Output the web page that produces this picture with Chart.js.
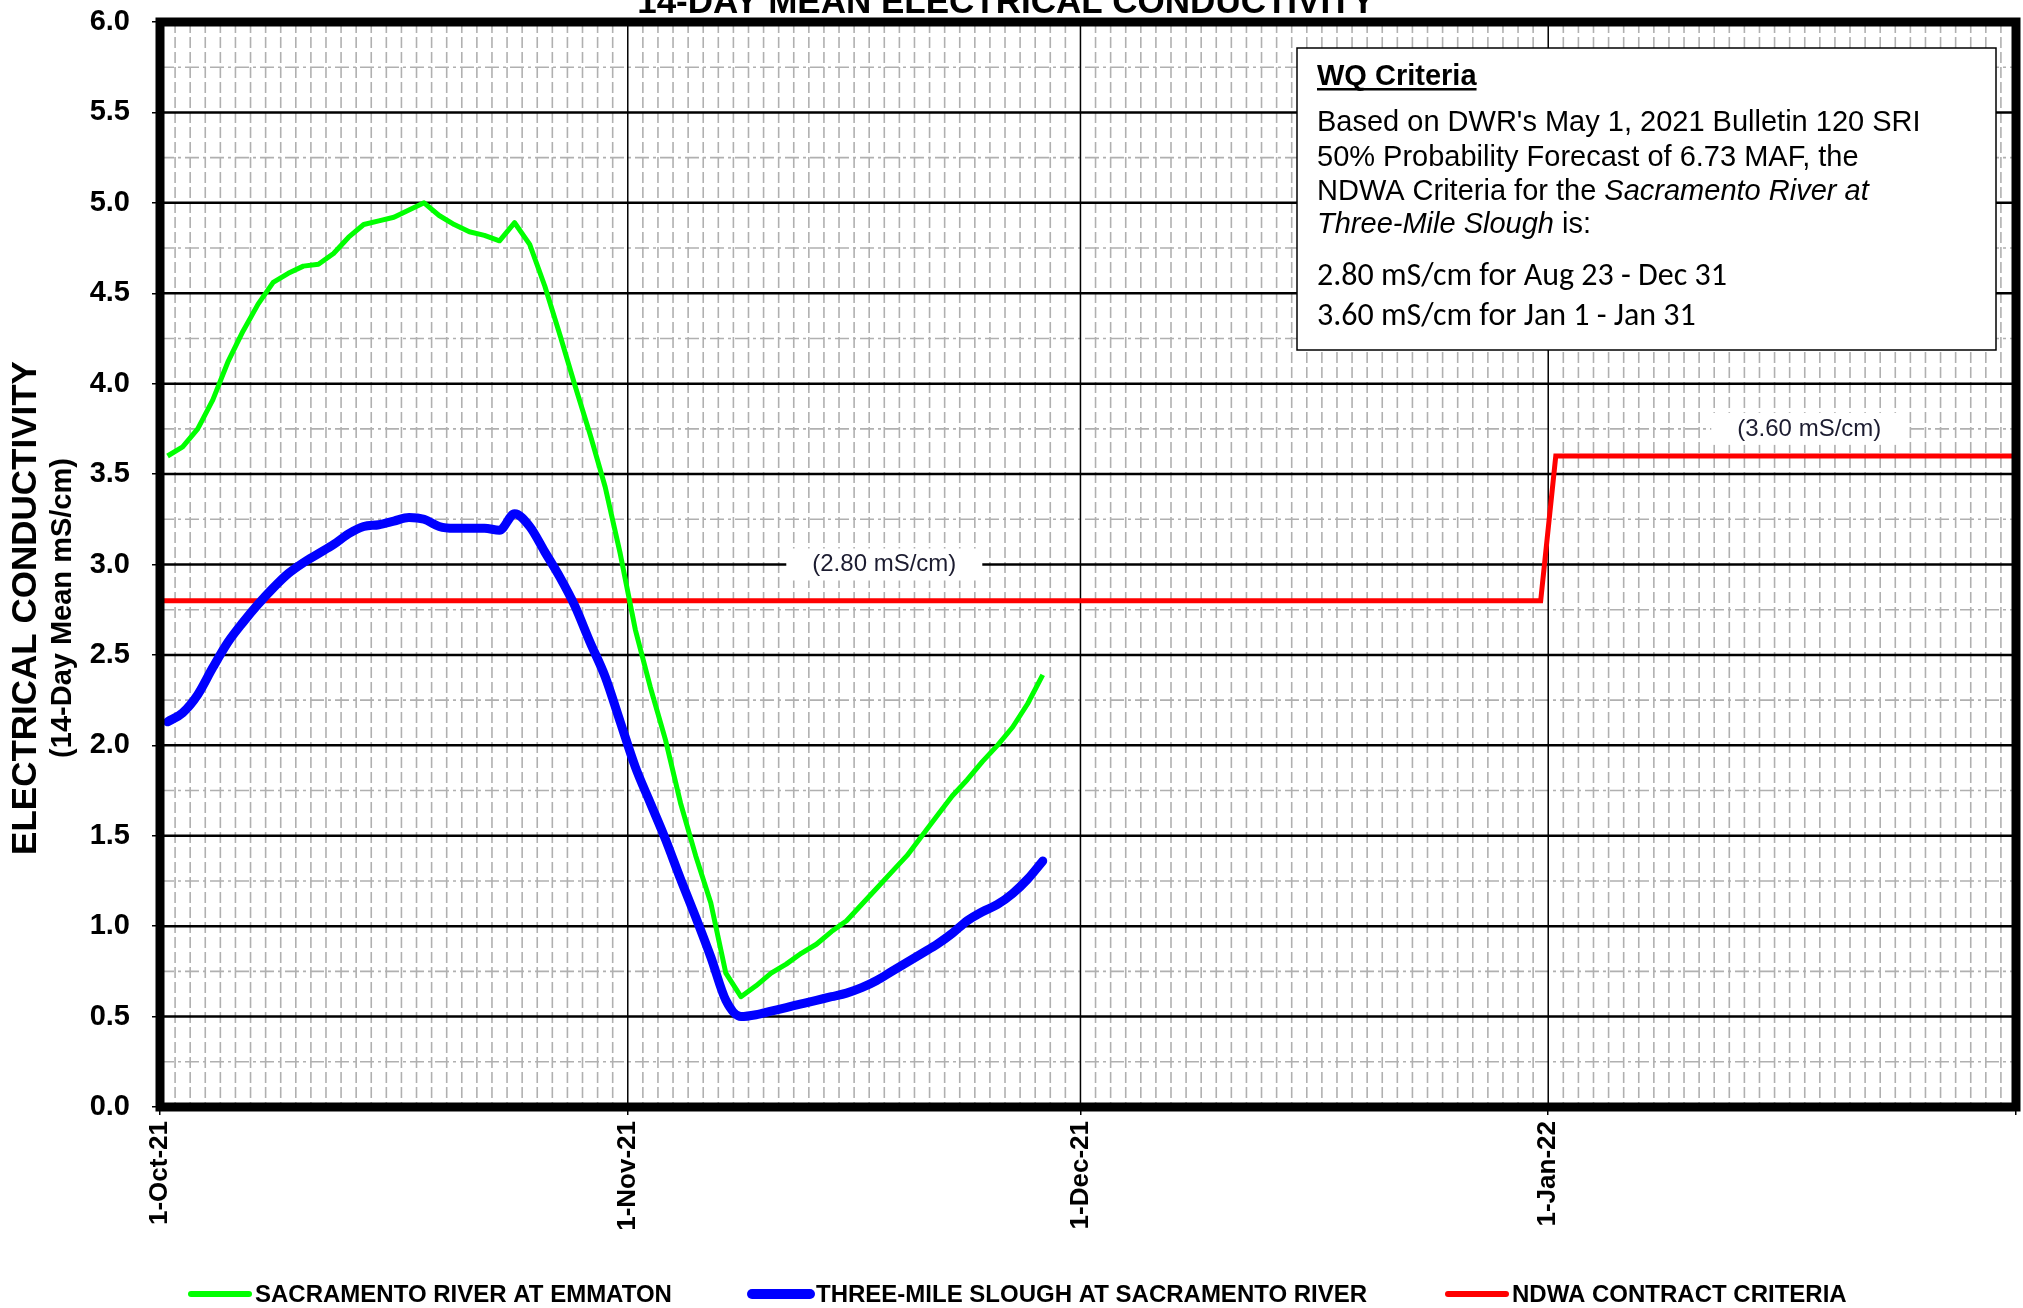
<!DOCTYPE html>
<html>
<head>
<meta charset="utf-8">
<title>14-Day Mean Electrical Conductivity</title>
<script src="https://cdn.jsdelivr.net/npm/chart.js@4.4.0/dist/chart.umd.min.js"></script>
<style>
  html, body { margin: 0; padding: 0; background: #fff; }
  #ecChart { display: block; }
</style>
</head>
<body>
<canvas id="ecChart" width="2023" height="1308"></canvas>
<script>
// x values are days since 1-Oct-21 00:00 (daily means plotted at noon)
const sampleDays = [
  0.5, 1.5, 2.5, 3.5, 4.5, 5.5, 6.5, 7.5, 8.5, 9.5,
  10.5, 11.5, 12.5, 13.5, 14.5, 15.5, 16.5, 17.5, 18.5, 19.5,
  20.5, 21.5, 22.5, 23.5, 24.5, 25.5, 26.5, 27.5, 28.5, 29.5,
  30.5, 31.5, 32.5, 33.5, 34.5, 35.5, 36.5, 37.5, 38.5, 39.5,
  40.5, 41.5, 42.5, 43.5, 44.5, 45.5, 46.5, 47.5, 48.5, 49.5,
  50.5, 51.5, 52.5, 53.5, 54.5, 55.5, 56.5, 57.5, 58.5
];

// Sacramento River at Emmaton (mS/cm)
const emmatonEC = [
  3.60, 3.65, 3.75, 3.91, 4.12, 4.29, 4.44, 4.56, 4.61, 4.65,
  4.66, 4.72, 4.81, 4.88, 4.90, 4.92, 4.96, 5.00, 4.93, 4.88,
  4.84, 4.82, 4.79, 4.89, 4.77, 4.54, 4.27, 3.99, 3.72, 3.43,
  3.06, 2.64, 2.32, 2.03, 1.68, 1.39, 1.13, 0.74, 0.61, 0.67,
  0.74, 0.79, 0.85, 0.90, 0.97, 1.03, 1.12, 1.21, 1.30, 1.39,
  1.50, 1.61, 1.72, 1.81, 1.91, 2.00, 2.10, 2.23, 2.39
];

// Three-Mile Slough at Sacramento River (mS/cm)
const threeMileEC = [
  2.13, 2.18, 2.28, 2.43, 2.57, 2.68, 2.78, 2.87, 2.95, 3.01,
  3.06, 3.11, 3.17, 3.21, 3.22, 3.24, 3.26, 3.25, 3.21, 3.20,
  3.20, 3.20, 3.19, 3.28, 3.21, 3.07, 2.93, 2.77, 2.57, 2.38,
  2.13, 1.88, 1.68, 1.48, 1.26, 1.05, 0.83, 0.59, 0.50, 0.51,
  0.53, 0.55, 0.57, 0.59, 0.61, 0.63, 0.66, 0.70, 0.75, 0.80,
  0.85, 0.90, 0.96, 1.03, 1.08, 1.12, 1.18, 1.26, 1.36
];

// NDWA contract criteria step
const criteriaDays = [0, 91.5, 92.5, 123];
const criteriaEC = [2.80, 2.80, 3.60, 3.60];

// axis ticks
const monthTickDays = [0, 31, 61, 92, 123];
const monthTickLabels = ['1-Oct-21', '1-Nov-21', '1-Dec-21', '1-Jan-22', ''];
const yMin = 0, yMax = 6, yStep = 0.5;

const seriesNames = [
  'SACRAMENTO RIVER AT EMMATON',
  'THREE-MILE SLOUGH AT SACRAMENTO RIVER',
  'NDWA CONTRACT CRITERIA'
];

const FONT = '"Liberation Sans", Arial, Helvetica, sans-serif';
const NOTE_FONT = 'Carlito, Lato, Calibri, sans-serif';

function toPoints(xs, ys) {
  return xs.map((x, i) => ({ x: x, y: ys[i] }));
}

// grid, criteria labels and the WQ note, under the lines
const backgroundPlugin = {
  id: 'ecBackground',
  beforeDatasetsDraw(chart) {
    const { ctx, chartArea: a, scales: { x, y } } = chart;
    ctx.save();

    // daily minor lines
    ctx.strokeStyle = '#b0b0b0';
    ctx.lineWidth = 1.6;
    ctx.setLineDash([11, 4]);
    for (let d = 1; d < x.max; d++) {
      if (monthTickDays.includes(d)) continue;
      const px = x.getPixelForValue(d);
      ctx.beginPath();
      ctx.moveTo(px, a.top);
      ctx.lineTo(px, a.bottom);
      ctx.stroke();
    }

    // quarter-unit minor lines
    ctx.setLineDash([14, 4, 3, 4]);
    for (let v = yMin + yStep / 2; v < yMax; v += yStep) {
      const py = y.getPixelForValue(v);
      ctx.beginPath();
      ctx.moveTo(a.left, py);
      ctx.lineTo(a.right, py);
      ctx.stroke();
    }

    // major horizontal lines
    ctx.setLineDash([]);
    ctx.strokeStyle = '#000';
    ctx.lineWidth = 2.5;
    for (let v = yMin + yStep; v < yMax; v += yStep) {
      const py = y.getPixelForValue(v);
      ctx.beginPath();
      ctx.moveTo(a.left, py);
      ctx.lineTo(a.right, py);
      ctx.stroke();
    }

    // month lines
    ctx.lineWidth = 1.5;
    monthTickDays.forEach(d => {
      const px = x.getPixelForValue(d);
      ctx.beginPath();
      ctx.moveTo(px, a.top);
      ctx.lineTo(px, a.bottom);
      ctx.stroke();
    });

    // criteria value labels on white patches
    ctx.font = '24px ' + FONT;
    ctx.textAlign = 'center';
    ctx.textBaseline = 'middle';
    [[48, 3.0, '(2.80 mS/cm)'], [109.3, 3.75, '(3.60 mS/cm)']].forEach(([d, v, txt]) => {
      const px = x.getPixelForValue(d);
      const py = y.getPixelForValue(v);
      ctx.fillStyle = '#fff';
      ctx.fillRect(px - 98, py - 16, 196, 32);
      ctx.fillStyle = '#1c1c30';
      ctx.fillText(txt, px, py);
    });

    // WQ criteria note
    const bx = 1297, by = 48, bw = 699, bh = 302;
    ctx.fillStyle = '#fff';
    ctx.fillRect(bx, by, bw, bh);
    ctx.strokeStyle = '#000';
    ctx.lineWidth = 1.5;
    ctx.strokeRect(bx, by, bw, bh);

    const tx = 1317;
    ctx.textAlign = 'left';
    ctx.textBaseline = 'alphabetic';
    ctx.fillStyle = '#000';
    ctx.font = 'bold 29px ' + FONT;
    ctx.fillText('WQ Criteria', tx, 85);
    const hw = ctx.measureText('WQ Criteria').width;
    ctx.fillRect(tx, 88, hw, 2.5);

    const noteLines = [
      [['Based on DWR\'s May 1, 2021 Bulletin 120 SRI', false]],
      [['50% Probability Forecast of 6.73 MAF, the', false]],
      [['NDWA Criteria for the ', false], ['Sacramento River at', true]],
      [['Three-Mile Slough', true], [' is:', false]]
    ];
    const noteBase = [131, 166, 200, 233];
    noteLines.forEach((runs, i) => {
      let cx = tx;
      runs.forEach(([txt, italic]) => {
        ctx.font = (italic ? 'italic ' : '') + '29px ' + FONT;
        ctx.fillText(txt, cx, noteBase[i]);
        cx += ctx.measureText(txt).width;
      });
    });
    ctx.font = '32px ' + NOTE_FONT;
    ctx.fillText('2.80 mS/cm for Aug 23 - Dec 31', tx, 285);
    ctx.fillText('3.60 mS/cm for Jan 1 - Jan 31', tx, 325);

    ctx.restore();
  },
  afterDatasetsDraw(chart) {
    // heavy frame round the plot
    const { ctx, chartArea: a } = chart;
    ctx.save();
    ctx.strokeStyle = '#000';
    ctx.lineWidth = 9;
    ctx.strokeRect(a.left, a.top, a.right - a.left, a.bottom - a.top);
    ctx.restore();
  },
  afterDraw(chart) {
    const { ctx } = chart;
    ctx.save();
    ctx.fillStyle = '#000';

    // title, clipped at the top edge as in the original
    ctx.font = 'bold 35px ' + FONT;
    ctx.textAlign = 'center';
    ctx.textBaseline = 'alphabetic';
    ctx.fillText('14-DAY MEAN ELECTRICAL CONDUCTIVITY', 1006, 13);

    // y axis title
    ctx.save();
    ctx.translate(26, 608);
    ctx.rotate(-Math.PI / 2);
    ctx.textBaseline = 'middle';
    ctx.font = 'bold 35px ' + FONT;
    ctx.fillText('ELECTRICAL CONDUCTIVITY', 0, 0);
    ctx.font = 'bold 29px ' + FONT;
    ctx.fillText('(14-Day Mean mS/cm)', 0, 37);
    ctx.restore();

    // legend
    const slots = [191, 752, 1448];
    const ly = 1294;
    ctx.textAlign = 'left';
    ctx.textBaseline = 'middle';
    ctx.font = 'bold 24px ' + FONT;
    chart.data.datasets.forEach((ds, i) => {
      ctx.strokeStyle = ds.borderColor;
      ctx.lineWidth = ds.borderWidth + 1;
      ctx.lineCap = 'round';
      ctx.beginPath();
      ctx.moveTo(slots[i], ly);
      ctx.lineTo(slots[i] + 58, ly);
      ctx.stroke();
      ctx.fillStyle = '#000';
      ctx.fillText(ds.label, slots[i] + 64, ly + 1);
    });
    ctx.restore();
  }
};

new Chart(document.getElementById('ecChart'), {
  type: 'line',
  data: {
    datasets: [
      {
        label: seriesNames[0],
        data: toPoints(sampleDays, emmatonEC),
        borderColor: '#00ff00',
        borderWidth: 5,
        tension: 0,
        pointRadius: 0,
        borderJoinStyle: 'round'
      },
      {
        label: seriesNames[1],
        data: toPoints(sampleDays, threeMileEC),
        borderColor: '#0000ff',
        borderWidth: 9,
        cubicInterpolationMode: 'monotone',
        pointRadius: 0,
        borderJoinStyle: 'round',
        borderCapStyle: 'round'
      },
      {
        label: seriesNames[2],
        data: toPoints(criteriaDays, criteriaEC),
        borderColor: '#ff0000',
        borderWidth: 5,
        tension: 0,
        pointRadius: 0
      }
    ]
  },
  options: {
    responsive: false,
    animation: false,
    layout: {
      padding: { left: 0, top: 22, right: 7, bottom: 0 }
    },
    scales: {
      x: {
        type: 'linear',
        min: 0,
        max: 123,
        afterBuildTicks: scale => {
          scale.ticks = monthTickDays.map(d => ({ value: d }));
        },
        afterFit: scale => {
          scale.height = 201;
          scale.paddingLeft = 0;
          scale.paddingRight = 0;
        },
        ticks: {
          autoSkip: false,
          minRotation: 90,
          maxRotation: 90,
          padding: 6,
          color: '#000',
          font: { family: FONT, size: 26, weight: 'bold' },
          callback: (value, index) => monthTickLabels[index]
        },
        grid: {
          drawOnChartArea: false,
          tickLength: 8,
          color: '#000',
          lineWidth: 1.5
        },
        border: { display: false }
      },
      y: {
        min: yMin,
        max: yMax,
        afterFit: scale => {
          scale.width = 160;
          scale.paddingTop = 0;
          scale.paddingBottom = 0;
        },
        ticks: {
          stepSize: yStep,
          padding: 22,
          color: '#000',
          font: { family: FONT, size: 29, weight: 'bold' },
          callback: value => value.toFixed(1)
        },
        grid: {
          drawOnChartArea: false,
          tickLength: 8,
          color: '#000',
          lineWidth: 1.5
        },
        border: { display: false }
      }
    },
    plugins: {
      legend: { display: false },
      title: { display: false },
      tooltip: { enabled: false }
    }
  },
  plugins: [backgroundPlugin]
});
</script>
</body>
</html>
